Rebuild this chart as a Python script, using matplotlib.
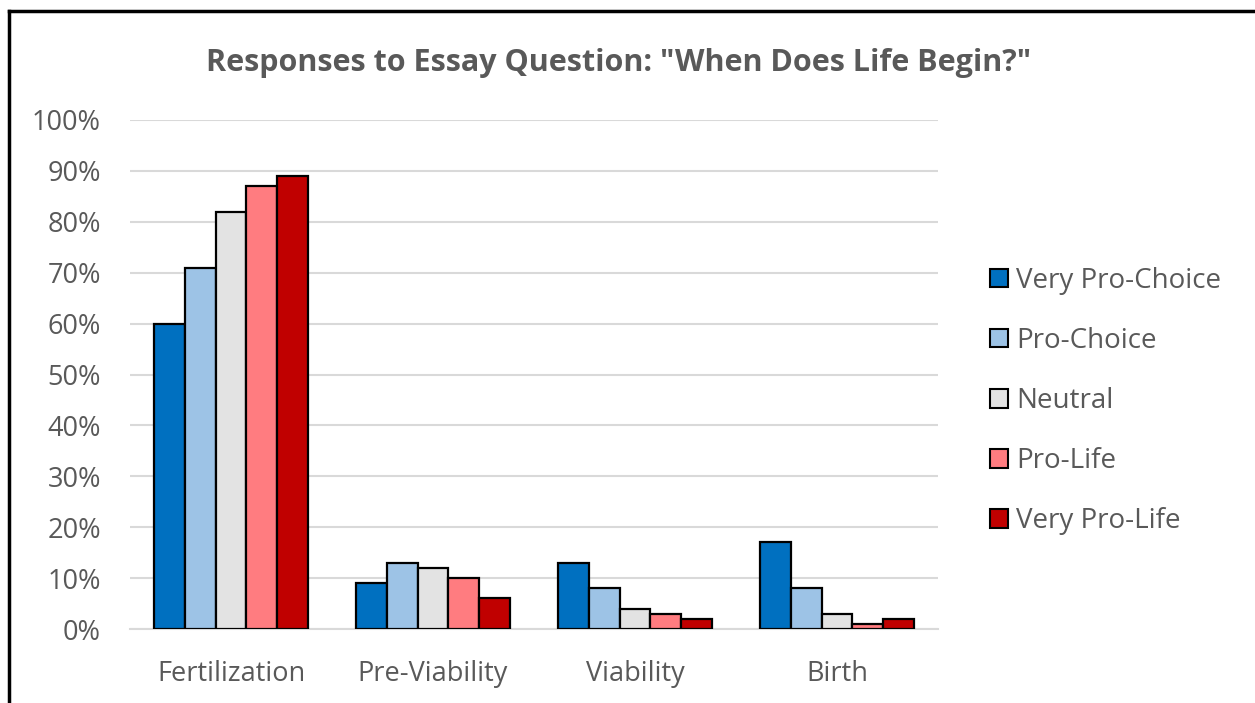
import numpy as np
import matplotlib.pyplot as plt
from matplotlib.lines import Line2D
from matplotlib.ticker import PercentFormatter

# Data
categories = ["Fertilization", "Pre-Viability", "Viability", "Birth"]
groups = ["Very Pro-Choice", "Pro-Choice", "Neutral", "Pro-Life", "Very Pro-Life"]
very_pro_choice = [60, 9, 13, 17]
pro_choice = [71, 13, 8, 8]
neutral = [82, 12, 4, 3]
pro_life = [87, 10, 3, 1]
very_pro_life = [89, 6, 2, 2]
series = [very_pro_choice, pro_choice, neutral, pro_life, very_pro_life]
colors = ["#0070c0", "#9dc3e6", "#e3e3e3", "#ff7c80", "#c00000"]

plt.rcParams['font.family'] = ['Open Sans', 'DejaVu Sans']
text_color = "#595959"

fig = plt.figure(figsize=(12.55, 7.03), dpi=100)
ax = fig.add_axes([130 / 1255, 1 - 629 / 703, 808 / 1255, 509 / 703])

x = np.arange(len(categories))
bar_w = 0.153
for i, (vals, col, name) in enumerate(zip(series, colors, groups)):
    ax.bar(x + (i - 2) * bar_w, vals, width=bar_w, color=col,
           edgecolor="black", linewidth=1.6, label=name, zorder=3)

ax.set_xlim(-0.5, len(categories) - 0.5)
ax.set_ylim(0, 100)
ax.set_yticks(np.arange(0, 101, 10))
ax.yaxis.set_major_formatter(PercentFormatter(decimals=0))
ax.set_xticks(x)
ax.set_xticklabels(categories)
ax.grid(axis="y", color="#d9d9d9", linewidth=1.5, zorder=0)
for s in ["top", "right", "left"]:
    ax.spines[s].set_visible(False)
ax.spines["bottom"].set_color("#d9d9d9")
ax.spines["bottom"].set_linewidth(1.5)
ax.tick_params(axis="both", length=0, labelsize=19.5, labelcolor=text_color)
ax.tick_params(axis="y", pad=21)
ax.tick_params(axis="x", pad=22)

fig.text(619 / 1255, 1 - 63 / 703, 'Responses to Essay Question: "When Does Life Begin?"',
         ha="center", va="center", fontsize=22, fontweight="bold", color=text_color)

handles = [plt.Rectangle((0, 0), 1, 1, facecolor=c, edgecolor="black", linewidth=1.5)
           for c in colors]
leg = fig.legend(handles, groups, loc="center left",
                 bbox_to_anchor=(965 / 1255, 1 - 401 / 703), frameon=False,
                 fontsize=20, labelspacing=1.16, handlelength=0.65, handleheight=0.65,
                 handletextpad=0.3)
for t in leg.get_texts():
    t.set_color(text_color)

# frame lines at top and left of the image
fig.add_artist(Line2D([9 / 1255, 1], [1 - 11 / 703, 1 - 11 / 703], color="black",
                      linewidth=2.5, transform=fig.transFigure))
fig.add_artist(Line2D([9 / 1255, 9 / 1255], [0, 1 - 11 / 703], color="black",
                      linewidth=2.5, transform=fig.transFigure))

fig.savefig("out.png", dpi=100)
